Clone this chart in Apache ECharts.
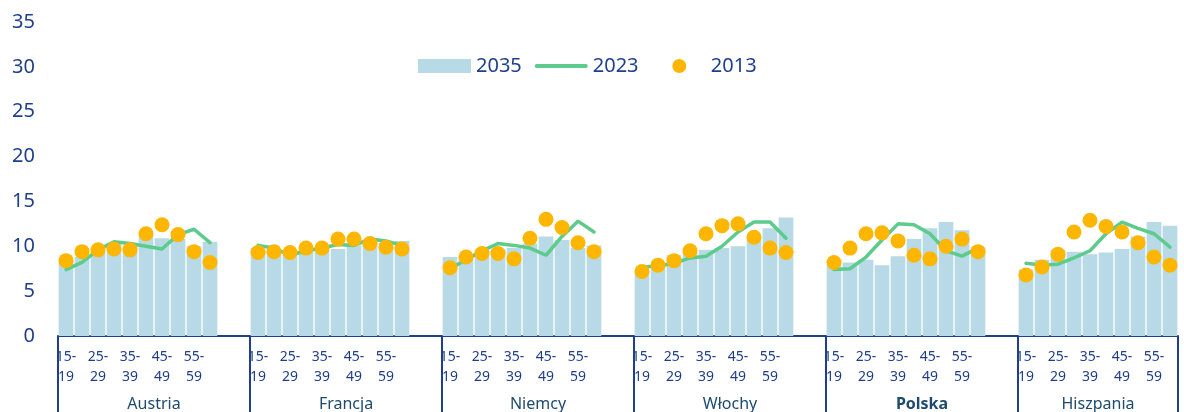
<!DOCTYPE html>
<html>
<head>
<meta charset="utf-8">
<title>Struktura wiekowa</title>
<script src="https://cdn.jsdelivr.net/npm/echarts@6/dist/echarts.min.js"></script>
<style>
    html, body { margin: 0; padding: 0; background: #ffffff; }
    #echart-age { width: 1184px; height: 412px; }
</style>
</head>
<body>
<div id="echart-age"></div>
<script>
// grupy wiekowe i kraje
var ageGroups = ['15-19', '20-24', '25-29', '30-34', '35-39', '40-44', '45-49', '50-54', '55-59', '60-64'];
var countries = ['Austria', 'Francja', 'Niemcy', 'Włochy', 'Polska', 'Hiszpania'];

// 2035 - słupki
var values2035 = [
    [8.3, 8.8, 9.5, 10.4, 10.1, 11.0, 10.9, 10.8, 10.0, 10.5],
    [9.8, 9.6, 9.5, 9.6, 9.8, 9.7, 10.1, 10.3, 10.4, 10.6],
    [8.8, 9.0, 9.6, 9.7, 9.8, 10.3, 11.1, 10.7, 9.8, 10.1],
    [7.2, 7.8, 9.0, 9.4, 9.6, 9.8, 10.0, 10.8, 12.0, 13.2],
    [8.0, 8.2, 8.5, 7.9, 8.9, 10.8, 12.0, 12.7, 11.8, 9.9],
    [7.4, 8.5, 9.6, 9.4, 9.1, 9.3, 9.7, 11.1, 12.7, 12.3]
];

// 2023 - linia
var values2023 = [
    [7.4, 8.2, 9.6, 10.5, 10.3, 10.0, 9.7, 11.3, 11.9, 10.4],
    [10.1, 9.8, 9.0, 9.5, 9.8, 10.2, 10.1, 10.8, 10.6, 10.1],
    [7.5, 8.5, 9.5, 10.3, 10.1, 9.8, 9.0, 11.1, 12.8, 11.6],
    [7.7, 7.8, 8.1, 8.7, 8.9, 10.0, 11.6, 12.7, 12.7, 10.9],
    [7.4, 7.5, 8.8, 10.7, 12.5, 12.4, 11.4, 9.5, 8.9, 9.8],
    [8.1, 7.9, 8.0, 8.7, 9.5, 11.4, 12.7, 12.0, 11.4, 9.9]
];

// 2013 - punkty
var values2013 = [
    [8.4, 9.4, 9.6, 9.7, 9.6, 11.4, 12.4, 11.3, 9.4, 8.2],
    [9.3, 9.4, 9.3, 9.8, 9.8, 10.8, 10.8, 10.3, 9.9, 9.7],
    [7.6, 8.8, 9.2, 9.2, 8.6, 10.9, 13.0, 12.1, 10.4, 9.4],
    [7.2, 7.9, 8.4, 9.5, 11.4, 12.3, 12.5, 11.0, 9.8, 9.3],
    [8.2, 9.8, 11.4, 11.5, 10.6, 9.0, 8.6, 10.0, 10.8, 9.4],
    [6.8, 7.7, 9.1, 11.6, 12.9, 12.2, 11.6, 10.4, 8.8, 7.9]
];

var yTicks = [0, 5, 10, 15, 20, 25, 30, 35];

var textColor = '#1f3f8c';
var groupColor = '#1d4a6e';
var axisColor = '#1f3f8c';
var barColor = '#b7dae6';
var lineColor = '#5ccb8b';
var dotColor = '#ffb600';

// puste kategorie między krajami
var gapSlots = 2;

/**
 * spłaszczenie danych: kraj po kraju, z przerwą po każdym (poza ostatnim)
 */
function flatten(rows) {
    var out = [];
    for (var c = 0; c < rows.length; c++) {
        for (var i = 0; i < rows[c].length; i++) {
            out.push(rows[c][i]);
        }
        if (c < rows.length - 1) {
            for (var g = 0; g < gapSlots; g++) out.push('-');
        }
    }
    return out;
}

var categories = [];
var posInGroup = [];
var groupStarts = {};
var groupCenters = {};
(function () {
    var idx = 0;
    for (var c = 0; c < countries.length; c++) {
        var size = ageGroups.length + (c < countries.length - 1 ? gapSlots : 0);
        groupStarts[idx] = true;
        groupCenters[idx + size / 2] = countries[c];
        for (var i = 0; i < size; i++) {
            categories.push(i < ageGroups.length ? ageGroups[i] : '');
            posInGroup.push(i);
        }
        idx += size;
    }
})();

var myChart = echarts.init(document.getElementById('echart-age'));

var option = {
    animation: false,
    textStyle: { fontFamily: 'Noto Sans' },
    legend: {
        top: 56,
        left: 418,
        padding: 0,
        itemWidth: 53,
        itemHeight: 14,
        itemGap: 13,
        textStyle: { color: textColor, fontSize: 20, fontFamily: 'Noto Sans' },
        // odstęp przed kropką jak w oryginale
        formatter: function (name) {
            return name === '2023' ? name + '\u00a0\u00a0\u00a0\u00a0' : name;
        },
        data: [
            { name: '2035', icon: 'rect' },
            { name: '2023', icon: 'path://M2,0 L51,0 A2,2 0 0 1 51,4 L2,4 A2,2 0 0 1 2,0 Z' },
            { name: '2013', icon: 'circle' }
        ]
    },
    grid: {
        left: 58,
        right: 6,
        top: 22,
        bottom: 76,
        containLabel: false
    },
    xAxis: [{
        type: 'category',
        data: categories,
        boundaryGap: true,
        axisLine: {
            show: true,
            lineStyle: { color: axisColor, width: 2 }
        },
        axisTick: {
            show: true,
            length: 80,
            interval: function (index) {
                return !!groupStarts[index];
            },
            lineStyle: { color: axisColor, width: 2 }
        },
        axisLabel: {
            interval: 0,
            margin: 11,
            fontSize: 14,
            lineHeight: 20,
            color: textColor,
            formatter: function (value, index) {
                if (!value || posInGroup[index] % 2 !== 0) return '';
                return value.replace('-', '-\n');
            }
        }
    }, {
        type: 'value',
        position: 'bottom',
        min: 0,
        max: categories.length,
        interval: 1,
        axisLine: { show: false },
        axisTick: { show: false },
        splitLine: { show: false },
        axisLabel: {
            margin: 60,
            fontSize: 16,
            color: groupColor,
            showMinLabel: true,
            showMaxLabel: true,
            formatter: function (value) {
                var name = groupCenters[value];
                if (!name) return '';
                return name === 'Polska' ? '{b|' + name + '}' : name;
            },
            rich: {
                b: { fontSize: 16, fontWeight: 'bold', color: groupColor, fontFamily: 'Noto Sans' }
            }
        }
    }],
    yAxis: {
        type: 'value',
        min: yTicks[0],
        max: yTicks[yTicks.length - 1],
        interval: yTicks[1] - yTicks[0],
        axisLine: { show: false },
        axisTick: { show: false },
        splitLine: { show: false },
        axisLabel: {
            margin: 23,
            fontSize: 20,
            color: textColor
        }
    },
    series: [{
        name: '2035',
        type: 'bar',
        barCategoryGap: '8%',
        itemStyle: { color: barColor },
        data: flatten(values2035),
        z: 1
    }, {
        name: '2023',
        type: 'line',
        symbol: 'none',
        connectNulls: false,
        lineStyle: { color: lineColor, width: 3.5, cap: 'round' },
        itemStyle: { color: lineColor },
        data: flatten(values2023),
        z: 2
    }, {
        name: '2013',
        type: 'scatter',
        symbol: 'circle',
        symbolSize: 15,
        itemStyle: { color: dotColor, opacity: 1 },
        data: flatten(values2013),
        z: 3
    }]
};
myChart.setOption(option);
</script>
</body>
</html>
